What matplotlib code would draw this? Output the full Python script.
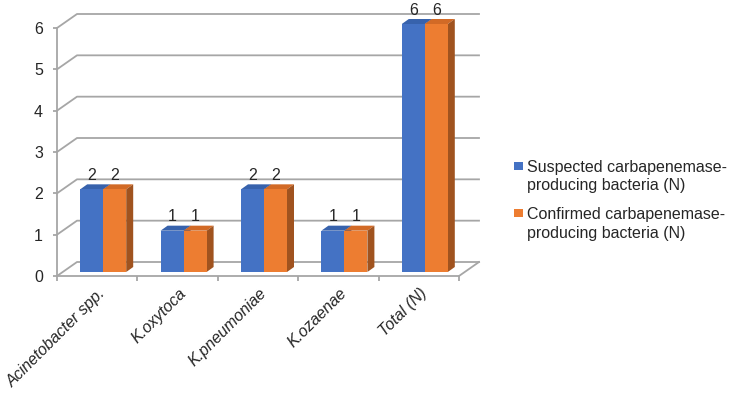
import matplotlib.pyplot as plt
from matplotlib.patches import Polygon, Rectangle
import matplotlib.transforms as mtransforms

# data
categories = ["Acinetobacter spp.", "K.oxytoca", "K.pneumoniae", "K.ozaenae", "Total (N)"]
suspected = [2, 1, 2, 1, 6]
confirmed = [2, 1, 2, 1, 6]
series_names = ["Suspected carbapenemase-\nproducing bacteria (N)",
                "Confirmed carbapenemase-\nproducing bacteria (N)"]
y_ticks = [0, 1, 2, 3, 4, 5, 6]

front_colors = ["#4472C4", "#ED7D31"]
top_colors = ["#3762AC", "#D26A26"]
side_colors = ["#2F5597", "#A0531F"]
grid_col = "#a6a6a6"
text_col = "#262626"

plt.rcParams['font.family'] = ['Liberation Sans', 'DejaVu Sans']

fig = plt.figure(figsize=(7.32, 3.95), dpi=100)
ax = fig.add_axes([57 / 732, 119 / 395, 402 / 732, 248 / 395])
n = len(categories)
ax.set_xlim(-0.5, n - 0.5)
ax.set_ylim(0, max(y_ticks))

# pixel -> data unit helpers (for the fake 3D depth)
fw, fh = fig.get_size_inches() * fig.dpi
pos = ax.get_position()
ux = n / (pos.width * fw)
uy = max(y_ticks) / (pos.height * fh)
wall_dx, wall_dy = 20 * ux, 14 * uy
shift_x, shift_y = 6 * ux, 4 * uy
bar_dx, bar_dy = 7 * ux, 5 * uy
w = 23 * ux

# back wall gridlines + diagonals
for v in y_ticks:
    ax.plot([-0.5, -0.5 + wall_dx, n - 0.5 + wall_dx], [v, v + wall_dy, v + wall_dy],
            color=grid_col, lw=1.3, clip_on=False, zorder=1)
ax.plot([n - 0.5, n - 0.5 + wall_dx], [0, wall_dy], color=grid_col, lw=1.3,
        clip_on=False, zorder=1)

# bars with top and side faces
for s, vals in enumerate([suspected, confirmed]):
    for i, v in enumerate(vals):
        x0 = i - w + s * w + shift_x
        x1 = x0 + w
        top = v + shift_y
        ax.add_patch(Polygon([(x0, top), (x1, top), (x1 + bar_dx, top + bar_dy),
                              (x0 + bar_dx, top + bar_dy)], closed=True,
                             facecolor=top_colors[s], edgecolor='none',
                             clip_on=False, zorder=3))
        ax.add_patch(Polygon([(x1, shift_y), (x1 + bar_dx, shift_y + bar_dy),
                              (x1 + bar_dx, top + bar_dy), (x1, top)], closed=True,
                             facecolor=side_colors[s], edgecolor='none',
                             clip_on=False, zorder=3))
    xs = [i - w / 2 + s * w + shift_x for i in range(n)]
    bars = ax.bar(xs, vals, width=w, bottom=shift_y, color=front_colors[s],
                  zorder=4, clip_on=False)
    for x, v in zip(xs, vals):
        ax.text(x, v + shift_y + 6.5 * uy, str(v), ha='center', va='bottom',
                fontsize=11.5, color=text_col, zorder=5)

# axes styling
for side in ['top', 'right']:
    ax.spines[side].set_visible(False)
for side in ['left', 'bottom']:
    ax.spines[side].set_color(grid_col)
    ax.spines[side].set_linewidth(1.3)

ax.set_yticks(y_ticks)
ax.tick_params(axis='y', length=3, width=1.3, color=grid_col, labelcolor=text_col,
               labelsize=11.5, pad=7)
ax.set_xticks(range(n))
ax.set_xticklabels(categories, rotation=45, ha='right', rotation_mode='anchor',
                   fontstyle='italic')
ax.tick_params(axis='x', which='major', length=0, labelcolor=text_col,
               labelsize=11.5, pad=7)
ax.set_xticks([i - 0.5 for i in range(n + 1)], minor=True)
ax.tick_params(axis='x', which='minor', length=3.5, width=1.3, color=grid_col)
off = mtransforms.ScaledTranslation(1 / 100, 0, fig.dpi_scale_trans)
for lab in ax.get_xticklabels():
    lab.set_transform(lab.get_transform() + off)

# legend
leg_y = [176.5, 224]
sq_y = [166, 213]
for s in range(2):
    fig.patches.append(Rectangle((514 / 732, (395 - sq_y[s] - 4) / 395), 9 / 732, 8 / 395,
                                 transform=fig.transFigure, facecolor=front_colors[s],
                                 edgecolor='none'))
    fig.text(527 / 732, (395 - leg_y[s]) / 395, series_names[s], ha='left',
             va='center', fontsize=11.5, color=text_col, linespacing=1.3)

fig.savefig("out.png", dpi=100)
